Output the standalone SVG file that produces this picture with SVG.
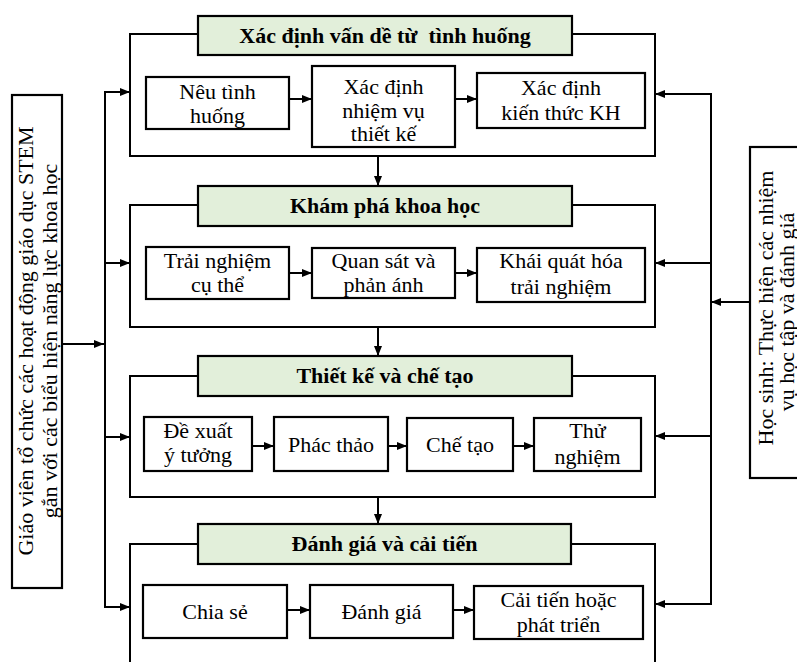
<svg xmlns="http://www.w3.org/2000/svg" width="797" height="662" viewBox="0 0 797 662">
<style>
  text { font-family: "Liberation Serif", "Times New Roman", serif; font-size: 22px; fill: #000; text-anchor: middle; }
  .hdr { font-weight: bold; white-space: pre; }
  .frame { fill: none; stroke: #000; stroke-width: 2; }
  .box { fill: #fff; stroke: #000; stroke-width: 2.2; }
  .head { fill: #E2EFDA; stroke: #000; stroke-width: 2.2; }
  .conn { fill: none; stroke: #000; stroke-width: 2; }
</style>
<defs>
  <marker id="arr" viewBox="0 0 10 10" refX="10" refY="5" markerWidth="10" markerHeight="10" markerUnits="userSpaceOnUse" orient="auto">
    <path d="M0,1 L10,5 L0,9 Z" fill="#000"/>
  </marker>
</defs>
<rect width="797" height="662" fill="#fff"/>

<g id="gv">
  <rect class="box" x="12" y="95" width="50" height="493"/>
  <text transform="translate(33,341) rotate(-90)">Giáo viên tổ chức các hoạt động giáo dục  STEM</text>
  <text transform="translate(57,341) rotate(-90)">gắn với các biểu hiện năng lực khoa học</text>
</g>

<g id="hs">
  <rect class="box" x="750" y="147" width="60" height="331"/>
  <text transform="translate(773,308) rotate(-90)">Học sinh: Thực hiện các nhiệm</text>
  <text transform="translate(794,312) rotate(-90)">vụ học tập và đánh giá</text>
</g>

<g id="stage1">
  <rect class="frame" x="130" y="34" width="525" height="122"/>
  <rect class="head" x="198" y="16" width="374" height="39"/>
  <text class="hdr" x="385" y="43" xml:space="preserve">Xác định vấn dề từ  tình huống</text>
</g>
<g id="s1a">
  <rect class="box" x="146" y="77" width="143" height="52"/>
  <text x="217.5" y="99">Nêu tình</text>
  <text x="217.5" y="123">huống</text>
</g>
<g id="s1b">
  <rect class="box" x="312" y="66" width="143" height="81"/>
  <text x="383.5" y="94">Xác định</text>
  <text x="383.5" y="118">nhiệm vụ</text>
  <text x="383.5" y="141">thiết kế</text>
</g>
<g id="s1c">
  <rect class="box" x="477" y="73" width="168" height="55"/>
  <text x="561" y="95">Xác định</text>
  <text x="561" y="120">kiến thức KH</text>
</g>

<g id="stage2">
  <rect class="frame" x="130" y="205" width="525" height="122"/>
  <rect class="head" x="198" y="186" width="374" height="40"/>
  <text class="hdr" x="385" y="213">Khám phá khoa học</text>
</g>
<g id="s2a">
  <rect class="box" x="146" y="247" width="143" height="52"/>
  <text x="217.5" y="268">Trải nghiệm</text>
  <text x="217.5" y="292">cụ thể</text>
</g>
<g id="s2b">
  <rect class="box" x="312" y="248" width="143" height="50"/>
  <text x="383.5" y="268">Quan sát và</text>
  <text x="383.5" y="292">phản ánh</text>
</g>
<g id="s2c">
  <rect class="box" x="477" y="248" width="168" height="54"/>
  <text x="561" y="268">Khái quát hóa</text>
  <text x="561" y="294">trải nghiệm</text>
</g>

<g id="stage3">
  <rect class="frame" x="130" y="376" width="525" height="121"/>
  <rect class="head" x="198" y="356" width="374" height="40"/>
  <text class="hdr" x="385" y="383">Thiết kế và chế tạo</text>
</g>
<g id="s3a">
  <rect class="box" x="144" y="417" width="108" height="54"/>
  <text x="198" y="438">Đề xuất</text>
  <text x="198" y="462">ý tưởng</text>
</g>
<g id="s3b">
  <rect class="box" x="274" y="417" width="114" height="54"/>
  <text x="331" y="452">Phác thảo</text>
</g>
<g id="s3c">
  <rect class="box" x="407" y="418" width="106" height="53"/>
  <text x="460" y="452">Chế tạo</text>
</g>
<g id="s3d">
  <rect class="box" x="534" y="418" width="107" height="53"/>
  <text x="587.5" y="438">Thử</text>
  <text x="587.5" y="464">nghiệm</text>
</g>

<g id="stage4">
  <path class="frame" d="M130,663 V544 H655 V663"/>
  <rect class="head" x="198" y="524" width="373" height="40"/>
  <text class="hdr" x="384.5" y="551">Đánh giá và cải tiến</text>
</g>
<g id="s4a">
  <rect class="box" x="143" y="585" width="144" height="53"/>
  <text x="215" y="619">Chia sẻ</text>
</g>
<g id="s4b">
  <rect class="box" x="310" y="585" width="143" height="53"/>
  <text x="381.5" y="619">Đánh giá</text>
</g>
<g id="s4c">
  <rect class="box" x="474" y="586" width="169" height="53"/>
  <text x="558.5" y="607">Cải tiến hoặc</text>
  <text x="558.5" y="632">phát triển</text>
</g>

<g id="connectors">
  <path class="conn" d="M105,92 V607"/>
  <path class="conn" d="M62,344 H104" marker-end="url(#arr)"/>
  <path class="conn" d="M104,92 H130" marker-end="url(#arr)"/>
  <path class="conn" d="M105,263 H130" marker-end="url(#arr)"/>
  <path class="conn" d="M105,437 H130" marker-end="url(#arr)"/>
  <path class="conn" d="M104,607 H130" marker-end="url(#arr)"/>
  <path class="conn" d="M711,94 V604"/>
  <path class="conn" d="M750,302 H711" marker-end="url(#arr)"/>
  <path class="conn" d="M712,94 H655" marker-end="url(#arr)"/>
  <path class="conn" d="M711,263 H655" marker-end="url(#arr)"/>
  <path class="conn" d="M711,436 H655" marker-end="url(#arr)"/>
  <path class="conn" d="M712,604 H655" marker-end="url(#arr)"/>
  <path class="conn" d="M378,156 V186" marker-end="url(#arr)"/>
  <path class="conn" d="M378,327 V356" marker-end="url(#arr)"/>
  <path class="conn" d="M378,498 V524" marker-end="url(#arr)"/>
  <path class="conn" d="M289,99 H312" marker-end="url(#arr)"/>
  <path class="conn" d="M455,99 H477" marker-end="url(#arr)"/>
  <path class="conn" d="M289,273 H312" marker-end="url(#arr)"/>
  <path class="conn" d="M455,273 H477" marker-end="url(#arr)"/>
  <path class="conn" d="M252,446 H274" marker-end="url(#arr)"/>
  <path class="conn" d="M388,446 H407" marker-end="url(#arr)"/>
  <path class="conn" d="M513,446 H534" marker-end="url(#arr)"/>
  <path class="conn" d="M287,610 H310" marker-end="url(#arr)"/>
  <path class="conn" d="M453,610 H474" marker-end="url(#arr)"/>
</g>
</svg>
